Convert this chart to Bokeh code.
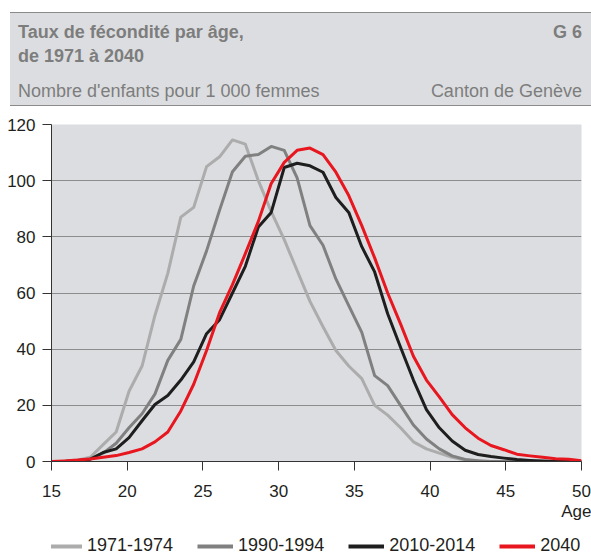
from bokeh.plotting import figure
from bokeh.models import Range1d, Legend, LegendItem, Div, FixedTicker, Title
from bokeh.layouts import column
from bokeh.embed import file_html
from bokeh.resources import INLINE

# Age grid (42 points between 15 and 50)
ages = [15.00, 15.85, 16.71, 17.56, 18.41, 19.27, 20.12, 20.98, 21.83, 22.68,
        23.54, 24.39, 25.24, 26.10, 26.95, 27.80, 28.66, 29.51, 30.37, 31.22,
        32.07, 32.93, 33.78, 34.63, 35.49, 36.34, 37.20, 38.05, 38.90, 39.76,
        40.61, 41.46, 42.32, 43.17, 44.02, 44.88, 45.73, 46.59, 47.44, 48.29,
        49.15, 50.00]

s1971 = [0, 0, 0.5, 1.5, 6, 10.5, 25, 34, 52, 67,
         87, 90.5, 105, 108.5, 114.5, 113, 100, 89, 79, 68,
         57, 48, 39.5, 34, 29.5, 20, 16.5, 12, 7, 4.5,
         3, 1.5, 0.5, 0, 0, 0, 0, 0, 0, 0,
         0, 0]
s1990 = [0, 0, 0.3, 1, 3, 6.5, 12, 17, 24, 36,
         43.5, 62.5, 75, 89.5, 103.2, 108.7, 109.3, 112.2, 110.8, 101,
         84, 77, 65, 55.5, 46, 30.6, 27, 20, 13, 8,
         4.5, 2, 0.7, 0.3, 0, 0, 0, 0, 0, 0,
         0, 0]
s2010 = [0, 0, 0.3, 0.8, 3.2, 4.5, 8.5, 14.5, 20.3, 23.5,
         29, 35.5, 45.5, 50.5, 60, 69.5, 83.5, 88.7, 104.7, 106.2,
         105.3, 103, 94, 88.7, 76.5, 67.5, 52.6, 40.7, 29, 18.5,
         12, 7.3, 4, 2.5, 1.8, 1.2, 0.7, 0.4, 0.2, 0,
         0, 0]
s2040 = [0, 0.2, 0.5, 0.9, 1.5, 2.1, 3.2, 4.5, 7, 10.5,
         18, 27.5, 39.5, 53, 63, 74, 85.5, 99, 106.5, 110.8,
         111.6, 109.3, 103, 94.7, 84, 72.5, 60, 49, 37.5, 29,
         23, 16.7, 12, 8.3, 5.7, 4.2, 2.6, 2, 1.5, 1,
         0.8, 0.3]

series_names = ["1971-1974", "1990-1994", "2010-2014", "2040"]
series_values = [s1971, s1990, s2010, s2040]
series_colors = ["#acacac", "#808080", "#1e1e1e", "#e8161e"]

x_ticks = [15, 20, 25, 30, 35, 40, 45, 50]
y_ticks = [0, 20, 40, 60, 80, 100, 120]

FONT = "Liberation Sans"
BAND = "#dcdde0"

header_html = f"""
<div style="position:relative;width:581px;height:94px;margin-top:12px;margin-left:10px;background:{BAND};
border-top:1px solid #8a8a8a;border-bottom:1px solid #8a8a8a;font-family:'{FONT}',Arial,sans-serif;color:#7d7d7d;">
  <div style="position:absolute;left:8px;top:7px;font-weight:bold;font-size:18px;line-height:24px;">Taux de fécondité par âge,<br>de 1971 à 2040</div>
  <div style="position:absolute;right:9px;top:7px;font-weight:bold;font-size:18px;line-height:24px;">G 6</div>
  <div style="position:absolute;left:8px;top:67px;font-size:18px;line-height:22px;">Nombre d'enfants pour 1 000 femmes</div>
  <div style="position:absolute;right:9px;top:67px;font-size:18px;line-height:22px;">Canton de Genève</div>
</div>
"""
header = Div(text=header_html, width=591, height=112, margin=(0, 0, 0, 0))

p = figure(width=591, height=413, output_backend="svg", toolbar_location=None,
           x_range=Range1d(15, 50), y_range=Range1d(0, 120),
           min_border_top=12, min_border_left=51, min_border_right=10,
           min_border_bottom=64, margin=(0, 0, 0, 0))
p.background_fill_color = BAND
p.border_fill_color = "white"
p.outline_line_color = None

for name, vals, col in zip(series_names, series_values, series_colors):
    p.line(ages, vals, line_color=col, line_width=3, line_join="round")

p.xgrid.grid_line_color = None
p.ygrid.grid_line_color = "#8c8c8c"
p.ygrid.grid_line_width = 1

for ax in (p.xaxis[0], p.yaxis[0]):
    ax.axis_line_color = "#333333"
    ax.axis_line_width = 1
    ax.major_tick_line_color = "#333333"
    ax.major_tick_out = 9
    ax.major_tick_in = 0
    ax.minor_tick_line_color = None
    ax.major_label_text_font = FONT
    ax.major_label_text_font_size = "17px"
    ax.major_label_text_color = "#231f20"

p.xaxis[0].major_label_standoff = 14
p.yaxis[0].major_label_standoff = 7
p.xaxis[0].ticker = FixedTicker(ticks=x_ticks)
p.yaxis[0].ticker = FixedTicker(ticks=y_ticks)

age_title = Title(text="Age", align="right", offset=-10, standoff=0,
                  text_font=FONT, text_font_size="17px", text_font_style="normal",
                  text_color="#231f20")
p.add_layout(age_title, "below")

# Legend strip (separate small figure without axes; swatch renderers sit outside its view)
lg = figure(width=591, height=29, output_backend="svg", toolbar_location=None,
            x_range=Range1d(0, 1), y_range=Range1d(0, 1),
            x_axis_location=None, y_axis_location=None,
            min_border=0, margin=(0, 0, 0, 0))
lg.grid.visible = False
lg.outline_line_color = None
lg.background_fill_color = "white"
lg.border_fill_color = "white"
items = []
for name, col in zip(series_names, series_colors):
    r = lg.line([-5, -4], [-5, -5], line_color=col, line_width=4)
    items.append(LegendItem(label=name, renderers=[r]))

legend = Legend(items=items, orientation="horizontal", location=(-5, -2),
                background_fill_alpha=0, border_line_color=None,
                glyph_width=36, glyph_height=20, label_height=20, label_standoff=5,
                spacing=24, padding=0, margin=0,
                label_text_font=FONT, label_text_font_size="18px",
                label_text_color="#231f20")
lg.add_layout(legend, "center")

layout = column(header, p, lg, spacing=0)
open("out.html", "w").write(file_html(layout, INLINE))
